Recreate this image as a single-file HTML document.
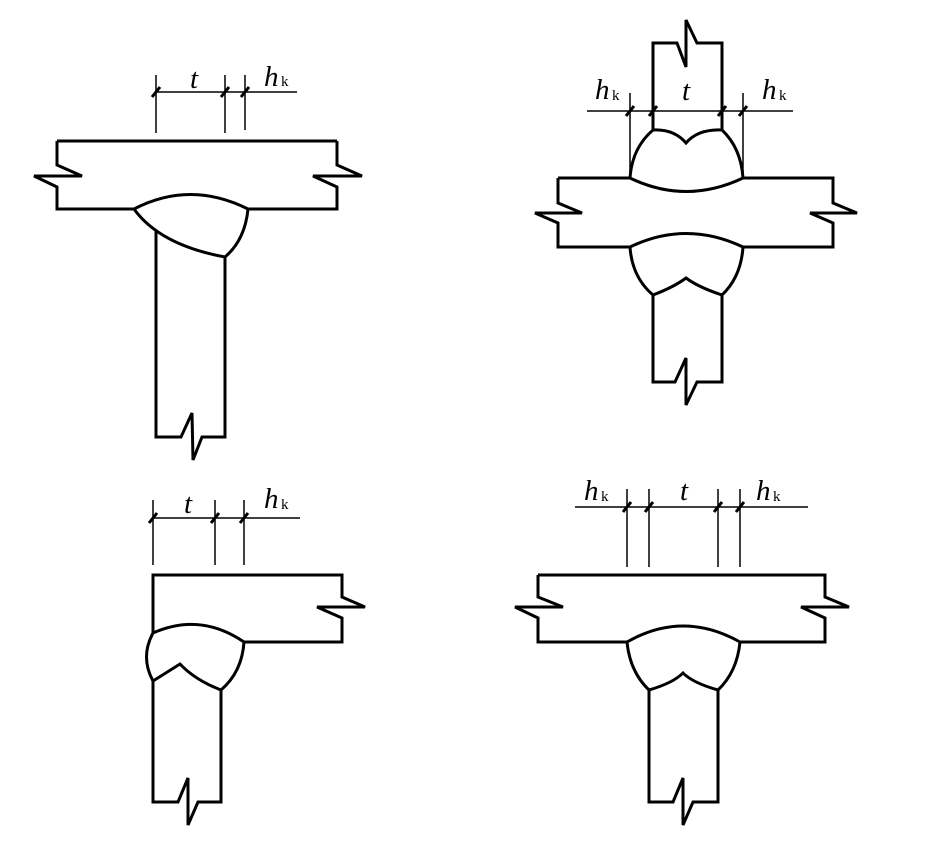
<!DOCTYPE html>
<html><head><meta charset="utf-8"><style>
html,body{margin:0;padding:0;background:#fff;}
svg{display:block;}
.p{fill:none;stroke:#000;stroke-width:3;stroke-linejoin:miter;}
.d{fill:none;stroke:#000;stroke-width:1.5;}
.k{stroke:#000;stroke-width:3;}
text{font-family:"Liberation Serif",serif;fill:#000;}
.i{font-style:italic;font-size:29px;}
.s{font-size:15px;}
</style></head><body>
<svg width="928" height="843" viewBox="0 0 928 843" xmlns="http://www.w3.org/2000/svg">
<!-- Fig 1 -->
<g>
<path class="d" d="M156 75V133M225 75V133M245 75V130M156 92H297"/>
<path class="k" d="M152 97L160 87M221 97L229 87M241 97L249 87"/>
<text class="i" x="190" y="88">t</text>
<text class="i" x="264" y="86">h</text><text class="s" x="281" y="86">k</text>
<path class="p" d="M57 141H337M57 141V165L82 176H34L57 187V209H134M248 209H337V187L313 176H362L337 165V141"/>
<path class="p" d="M134 209Q190 180 248 209M134 209Q160 245 225 257M248 209Q245 240 225 257"/>
<path class="p" d="M156 231V437H181L192 413L193 460L202 437H225V257"/>
</g>
<!-- Fig 2 -->
<g>
<path class="d" d="M587 111H793M630 93V178M743 93V178"/>
<path class="k" d="M626 116L634 106M649 116L657 106M718 116L726 106M739 116L747 106"/>
<text class="i" x="595" y="99">h</text><text class="s" x="612" y="100">k</text>
<text class="i" x="682" y="100">t</text>
<text class="i" x="762" y="99">h</text><text class="s" x="779" y="100">k</text>
<path class="p" d="M653 130V43H677L686 67V20L697 43H722V130"/>
<path class="p" d="M653 130Q674 129 686 143Q698 129 722 130M653 130Q632 148 630 178M722 130Q741 148 743 178"/>
<path class="p" d="M558 178H630M743 178H833V203L857 213H810L833 223V247H743M630 247H558V223L535 213H582L558 203V178"/>
<path class="p" d="M630 178Q686 205 743 178M630 247Q686 220 743 247"/>
<path class="p" d="M630 247Q632 277 653 295M743 247Q741 277 722 295M653 295Q674 287 686 278Q698 287 722 295"/>
<path class="p" d="M653 295V382H675L686 358V405L697 382H722V295"/>
</g>
<!-- Fig 3 -->
<g>
<path class="d" d="M153 500V565M215 500V565M244 500V565M153 518H300"/>
<path class="k" d="M149 523L157 513M211 523L219 513M240 523L248 513"/>
<text class="i" x="184" y="513">t</text>
<text class="i" x="264" y="508">h</text><text class="s" x="281" y="509">k</text>
<path class="p" d="M153 633V575H342V597L365 607H317L342 618V642H244"/>
<path class="p" d="M153 633Q200 612 244 642M153 633Q140 657 153 681M153 681L180 664Q195 680 221 690M244 642Q242 672 221 690"/>
<path class="p" d="M153 681V802H178L188 778V825L198 802H221V690"/>
</g>
<!-- Fig 4 -->
<g>
<path class="d" d="M575 507H808M627 489V567M649 489V567M718 489V567M740 489V567"/>
<path class="k" d="M623 512L631 502M645 512L653 502M714 512L722 502M736 512L744 502"/>
<text class="i" x="584" y="500">h</text><text class="s" x="601" y="501">k</text>
<text class="i" x="680" y="500">t</text>
<text class="i" x="756" y="500">h</text><text class="s" x="773" y="501">k</text>
<path class="p" d="M538 575H825V597L849 607H801L825 618V642H740M627 642H538V618L515 607H563L538 597V575"/>
<path class="p" d="M627 642Q683 610 740 642M627 642Q630 672 649 690M740 642Q737 672 718 690M649 690Q673 683 683 673Q693 683 718 690"/>
<path class="p" d="M649 690V802H673L683 778V825L693 802H718V690"/>
</g>
</svg>
</body></html>
